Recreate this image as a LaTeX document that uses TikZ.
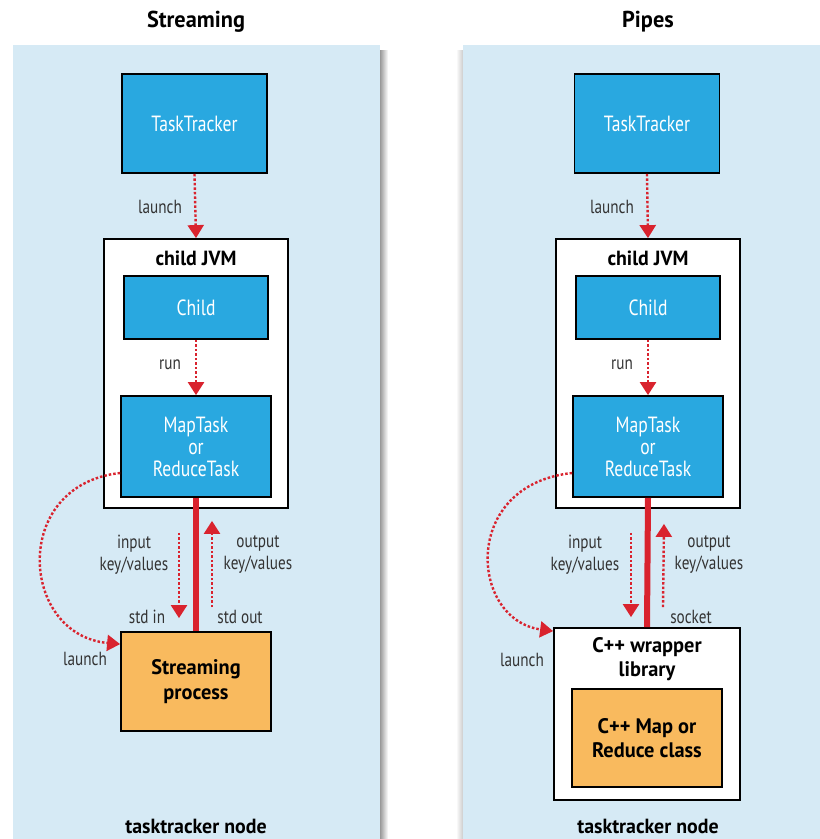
\documentclass[tikz,border=0pt]{standalone}
\usepackage{fontspec}
\setmainfont{PT Sans}[FakeStretch=0.8, BoldFeatures={FakeStretch=0.97}]
\usetikzlibrary{arrows.meta}
\definecolor{panelbg}{HTML}{D6EAF5}
\definecolor{boxblue}{HTML}{29A8E0}
\definecolor{boxorange}{HTML}{F9BA5E}
\definecolor{arrred}{HTML}{D9232E}
\definecolor{lblgray}{HTML}{333333}
\tikzset{
  x=1pt, y=-1pt,
  bluebox/.style={draw=black, line width=1.8pt, fill=boxblue, text=white, font=\fontsize{22}{22}\selectfont, align=center, inner sep=0pt},
  orangebox/.style={draw=black, line width=1.8pt, fill=boxorange, text=black, font=\bfseries\fontsize{21}{25}\selectfont, align=center, inner sep=0pt},
  whitebox/.style={draw=black, line width=1.8pt, fill=white, inner sep=0pt},
  lbl/.style={text=lblgray, font=\fontsize{19}{22}\selectfont, align=center, inner sep=0pt},
  btitle/.style={text=black, font=\bfseries\fontsize{20.5}{24}\selectfont, align=center, inner sep=0pt},
  dotarrow/.style={arrred, line width=2.4pt, dash pattern=on 2.5pt off 2pt, -{Triangle[width=16pt,length=13pt]}},
  pipe/.style={arrred, line width=6pt},
}
\begin{document}
\begin{tikzpicture}
\useasboundingbox (0,0) rectangle (820,839);
\fill[white] (0,0) rectangle (820,839);
% panels
\shade[left color=black!40, right color=white] (380,50) rectangle (388,839);
\shade[left color=white, right color=black!20] (456,50) rectangle (463,839);
\fill[panelbg] (13,45) rectangle (380,839);
\fill[panelbg] (463,45) rectangle (820,839);
% titles
\node[btitle, font=\bfseries\fontsize{23}{24}\selectfont] (t1) at (196,22) {Streaming};
\node[btitle, font=\bfseries\fontsize{23}{24}\selectfont] (t2) at (648,22) {Pipes};

% ---------- left: Streaming ----------
\node[bluebox, minimum width=145pt, minimum height=99pt] (tt1) at (194.5,123.5) {TaskTracker};
\node[whitebox, minimum width=184pt, minimum height=269pt] (jvm1) at (196,373.5) {};
\node[btitle] (jvml1) at (196,258) {child JVM};
\node[bluebox, minimum width=144pt, minimum height=63pt] (ch1) at (196,307.5) {Child};
\node[bluebox, minimum width=150pt, minimum height=101pt] (mt1) at (196,446.5) {MapTask\\or\\ReduceTask};
\node[orangebox, minimum width=150pt, minimum height=99pt] (sp1) at (196,681.5) {Streaming\\process};
\node[btitle] (tn1) at (196,826) {tasktracker node};

\draw[dotarrow] (tt1.south) -- (jvm1.north);
\node[lbl] (la1) at (160,207) {launch};
\draw[dotarrow] (ch1.south) -- (mt1.north);
\node[lbl] (ru1) at (170,365) {run};
\draw[pipe] (mt1.south) -- (sp1.north);
\draw[dotarrow] ([xshift=-17pt,yshift=-35pt]mt1.south) -- ([xshift=-17pt,yshift=13pt]sp1.north);
\draw[dotarrow] ([xshift=16pt,yshift=24pt]sp1.north) -- ([xshift=16pt,yshift=-23pt]mt1.south);
\node[lbl] (in1) at (134,555) {input\\key/values};
\node[lbl] (out1) at (258,555) {output\\key/values};
\node[lbl] (si1) at (147,617) {std in};
\node[lbl] (so1) at (240,617) {std out};
\draw[dotarrow] ([yshift=-26.5pt]mt1.west) .. controls (10,485) and (20,635) .. ([yshift=-13pt]sp1.north west);
\node[lbl] (lb1) at (85,659) {launch};

% ---------- right: Pipes ----------
\node[bluebox, minimum width=145pt, minimum height=99pt] (tt2) at (647,123.5) {TaskTracker};
\node[whitebox, minimum width=184pt, minimum height=269pt] (jvm2) at (648,373.5) {};
\node[btitle] (jvml2) at (648,258) {child JVM};
\node[bluebox, minimum width=144pt, minimum height=63pt] (ch2) at (648,307.5) {Child};
\node[bluebox, minimum width=150pt, minimum height=101pt] (mt2) at (648,446.5) {MapTask\\or\\ReduceTask};
\node[whitebox, minimum width=186pt, minimum height=172pt] (wr2) at (647,714) {};
\node[btitle, font=\bfseries\fontsize{21}{24}\selectfont] (wrl2) at (647,659) {C++ wrapper\\library};
\node[orangebox, font=\bfseries\fontsize{21}{24}\selectfont, minimum width=150pt, minimum height=98pt] (cl2) at (647,738) {C++ Map or\\Reduce class};
\node[btitle] (tn2) at (648,826) {tasktracker node};

\draw[dotarrow] (tt2.south) -- (jvm2.north);
\node[lbl] (la2) at (612,207) {launch};
\draw[dotarrow] (ch2.south) -- (mt2.north);
\node[lbl] (ru2) at (622,365) {run};
\draw[pipe] (mt2.south) -- (wr2.north);
\draw[dotarrow] ([xshift=-17pt,yshift=-35pt]mt2.south) -- ([xshift=-16pt,yshift=10pt]wr2.north);
\draw[dotarrow] ([xshift=16pt,yshift=20pt]wr2.north) -- ([xshift=16pt,yshift=-26pt]mt2.south);
\node[lbl] (in2) at (585,555) {input\\key/values};
\node[lbl] (out2) at (709,555) {output\\key/values};
\node[lbl] (so2) at (691,617) {socket};
\draw[dotarrow] ([yshift=-26.5pt]mt2.west) .. controls (460,485) and (470,620) .. ([yshift=-4pt]wr2.north west);
\node[lbl] (lb2) at (522,660) {launch};
\end{tikzpicture}
\end{document}
